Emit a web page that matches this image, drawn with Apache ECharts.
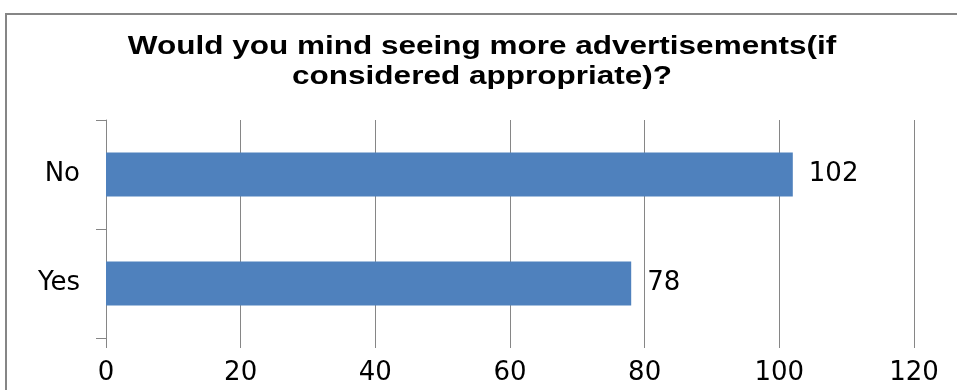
<!DOCTYPE html>
<html>
<head>
<meta charset="utf-8">
<script src="https://cdn.jsdelivr.net/npm/echarts@6/dist/echarts.min.js"></script>
<style>
  html, body { margin: 0; padding: 0; background: #fff; }
  #chart { width: 957px; height: 390px; }
</style>
</head>
<body>
<div id="chart"></div>
<script>
// Survey answers and counts
const categories = ['Yes', 'No'];
const counts = [78, 102];
const valueTicks = [0, 20, 40, 60, 80, 100, 120];
const titleLines = ['Would you mind seeing more advertisements(if', 'considered appropriate)?'];

const FONT = '"DejaVu Sans", "Liberation Sans", Arial, sans-serif';
const TITLE_FONT = 'bold 25px "Liberation Sans", Arial, sans-serif';
const GRID_GRAY = '#868686';

const chart = echarts.init(document.getElementById('chart'), null, { renderer: 'canvas' });

// Title: two centred lines, slightly widened
const titleGraphics = titleLines.map((line, i) => ({
  type: 'text',
  x: 482,
  y: 47 + i * 30,
  scaleX: 1.26,
  silent: true,
  style: {
    text: line,
    font: TITLE_FONT,
    fill: '#000',
    align: 'center',
    verticalAlign: 'middle'
  }
}));

chart.setOption({
  animation: false,
  backgroundColor: '#ffffff',
  graphic: [{
    type: 'rect',
    shape: { x: 6, y: 14, width: 980, height: 400 },
    style: { fill: 'none', stroke: GRID_GRAY, lineWidth: 2 },
    silent: true
  }].concat(titleGraphics),
  grid: { left: 106, right: 43, top: 120, bottom: 52, containLabel: false },
  xAxis: {
    type: 'value',
    min: valueTicks[0],
    max: valueTicks[valueTicks.length - 1],
    interval: valueTicks[1] - valueTicks[0],
    axisLine: { show: false },
    axisTick: { show: true, length: 10, lineStyle: { color: GRID_GRAY } },
    splitLine: { show: true, lineStyle: { color: GRID_GRAY, width: 1 } },
    axisLabel: { fontFamily: FONT, fontSize: 26, color: '#000', margin: 22 }
  },
  yAxis: {
    type: 'category',
    data: categories,
    axisLine: { show: true, lineStyle: { color: GRID_GRAY, width: 1 } },
    axisTick: { show: true, length: 10, lineStyle: { color: GRID_GRAY } },
    axisLabel: { fontFamily: FONT, fontSize: 26, color: '#000', margin: 26, interval: 0 }
  },
  series: [{
    type: 'bar',
    data: counts,
    barWidth: 44,
    itemStyle: { color: '#4f81bd' },
    label: {
      show: true,
      position: 'right',
      distance: 16,
      fontFamily: FONT,
      fontSize: 26,
      color: '#000'
    }
  }]
});
</script>
</body>
</html>
